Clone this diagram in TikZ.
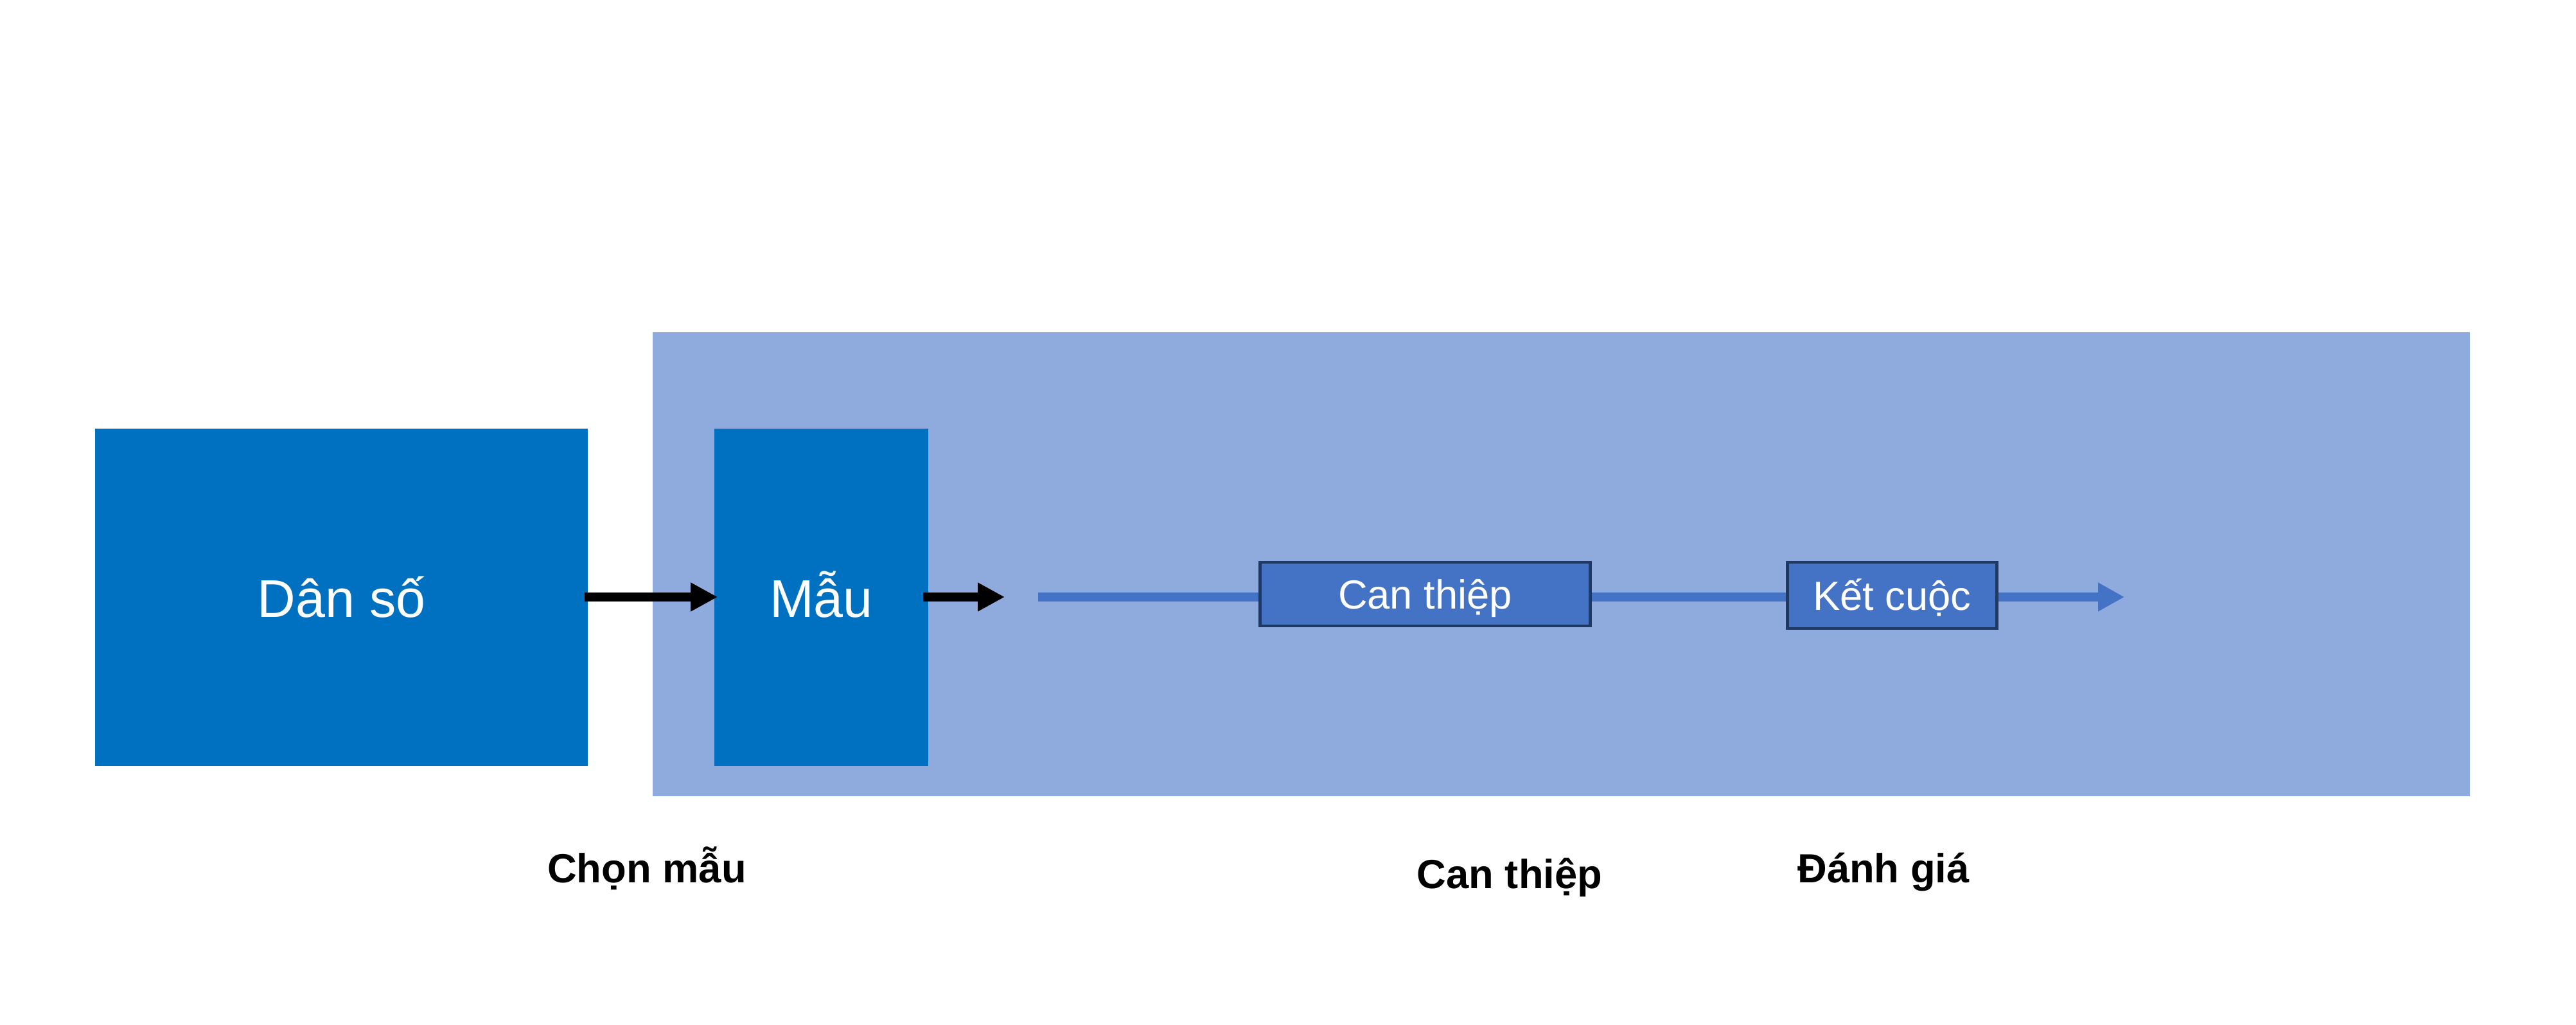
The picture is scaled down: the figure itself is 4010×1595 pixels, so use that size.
\documentclass[tikz,border=0pt]{standalone}
\usepackage{fontspec}
\setmainfont{Liberation Sans}
\usetikzlibrary{arrows.meta}
\definecolor{bigbg}{HTML}{8FAADC}
\definecolor{darkbox}{HTML}{0070C0}
\definecolor{midbox}{HTML}{4472C4}
\definecolor{navy}{HTML}{1F3864}
\begin{document}
\begin{tikzpicture}[x=0.01cm,y=-0.01cm,
  framebox/.style={fill=bigbg, draw=none, inner sep=0, anchor=north west},
  bigbox/.style={fill=darkbox, draw=none, text=white, inner sep=0,
    font=\fontsize{23.5}{28}\selectfont, text height=6.1mm, text depth=0mm},
  smallbox/.style={fill=midbox, draw=navy, line width=1.4pt, text=white, inner sep=0,
    font=\fontsize{18}{22}\selectfont, text height=4.6mm, text depth=0mm},
  phase/.style={font=\bfseries\fontsize{18}{22}\selectfont, anchor=base, inner sep=0},
  blackarrow/.style={line width=1.4mm, -{Triangle[length=4.2mm,width=4.2mm]}},
  blueline/.style={draw=midbox, line width=1.4mm},
  bluearrow/.style={draw=midbox, line width=1.4mm, -{Triangle[length=4.1mm,width=4.2mm]}}
]
\useasboundingbox (0,0) rectangle (4010,1595);
\node[framebox, minimum width=28.28cm, minimum height=7.22cm] (frame) at (1015,516) {};
\node[bigbox, minimum width=7.67cm, minimum height=5.25cm] (dan) at (531.5,929.5) {Dân số};
\node[bigbox, minimum width=3.33cm, minimum height=5.25cm] (mau) at (1278.5,929.5) {Mẫu};
\node[smallbox, minimum width=5.13cm, minimum height=0.99cm] (can) at (2218.5,924.5) {Can thiệp};
\node[smallbox, minimum width=3.25cm, minimum height=1.03cm] (ket) at (2945.5,926.5) {Kết cuộc};
\coordinate (a2end) at (1564,929);
\coordinate (lstart) at (1616,929);
\coordinate (lend) at (3307,929);
\draw[blackarrow, shorten <=-6*0.01cm, shorten >=-6*0.01cm] (dan.east |- a2end) -- (mau.west |- a2end);
\draw[blackarrow, shorten <=-9*0.01cm] (mau.east |- a2end) -- (a2end);
\draw[blueline] (lstart) -- (lstart -| can.west);
\draw[blueline] (can.east |- lstart) -- (ket.west |- lstart);
\draw[bluearrow] (ket.east |- lstart) -- (lend);
\node[phase] (l1) at (1007,1373) {Chọn mẫu};
\node[phase] (l2) at (2350,1382) {Can thiệp};
\node[phase] (l3) at (2932,1373) {Đánh giá};
\end{tikzpicture}
\end{document}
